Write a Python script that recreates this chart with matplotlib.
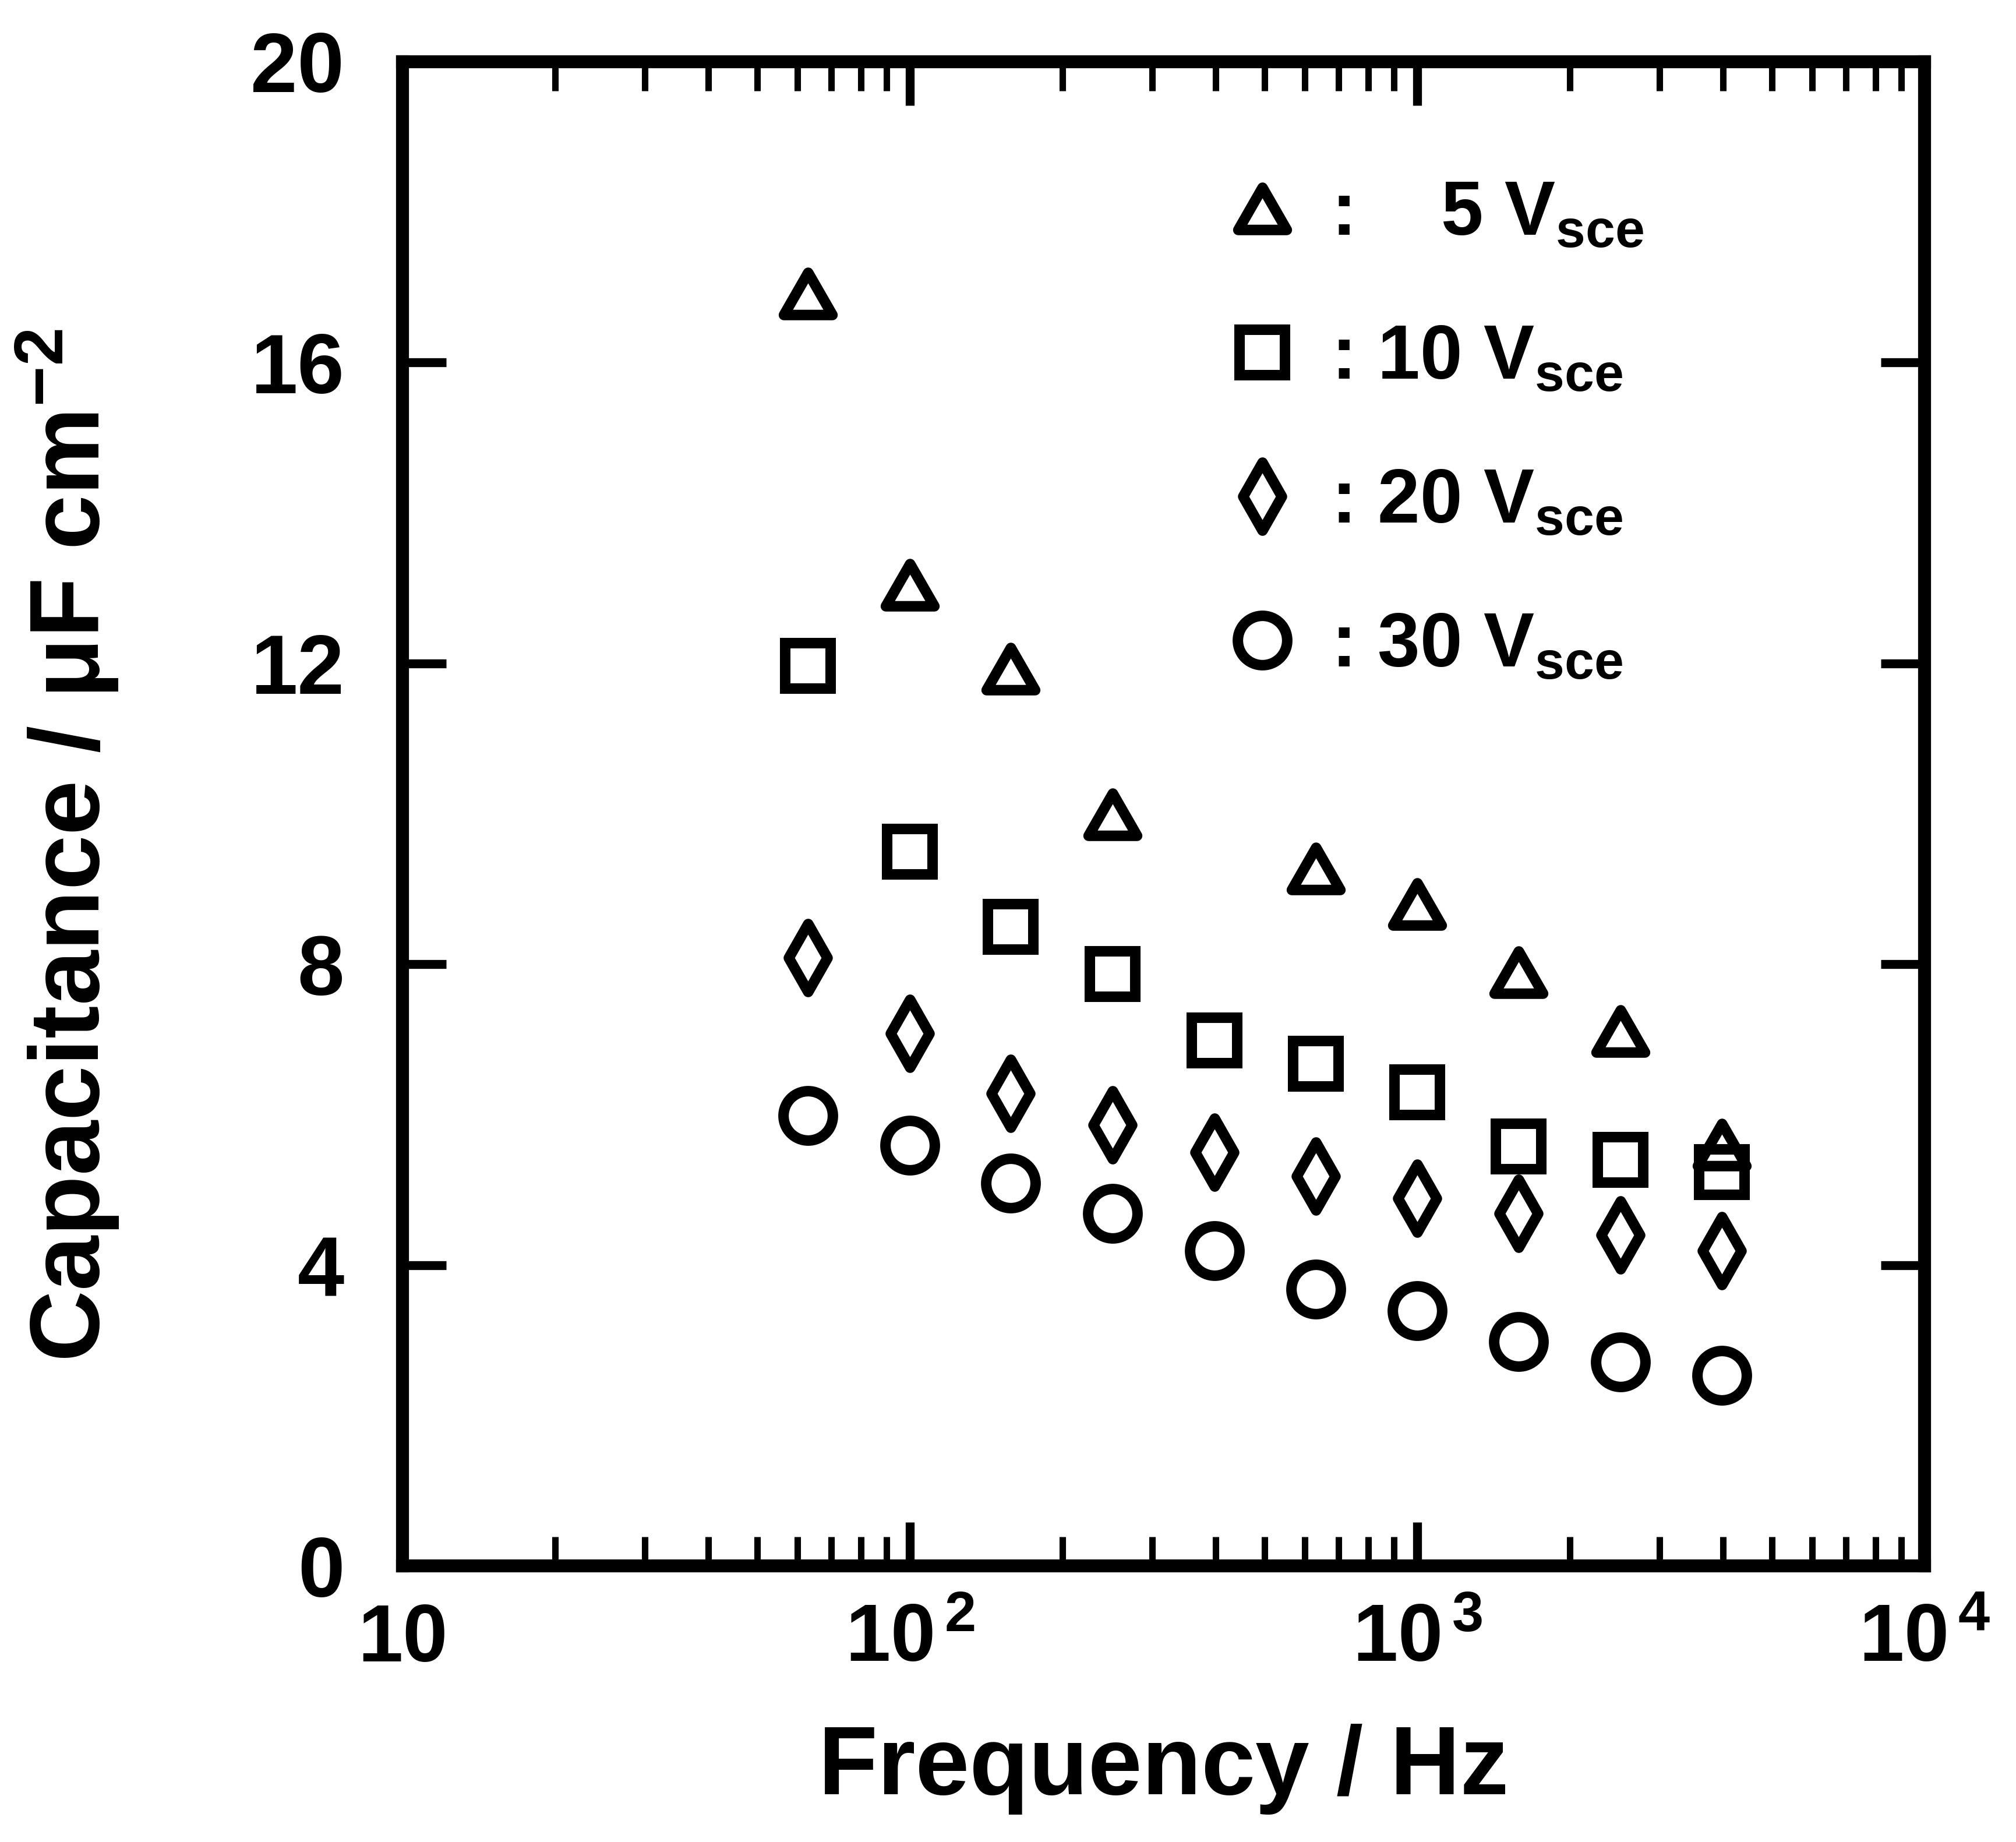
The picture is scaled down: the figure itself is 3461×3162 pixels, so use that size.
import matplotlib
matplotlib.use('Agg')
import matplotlib.pyplot as plt
from matplotlib.path import Path
from matplotlib.ticker import FixedLocator, FixedFormatter, LogLocator, NullFormatter

# ---- data ----
freq = [63, 100, 158, 251, 398, 631, 1000, 1585, 2512, 3981]
freq_5 = [63, 100, 158, 251, 631, 1000, 1585, 2512, 3981]
cap_5 = [16.92, 13.04, 11.93, 9.99, 9.27, 8.80, 7.89, 7.11, 5.60]
cap_10 = [11.97, 9.50, 8.50, 7.87, 6.99, 6.68, 6.30, 5.58, 5.40, 5.24]
cap_20 = [8.09, 7.08, 6.28, 5.86, 5.50, 5.18, 4.89, 4.69, 4.40, 4.19]
cap_30 = [5.99, 5.59, 5.09, 4.69, 4.19, 3.68, 3.39, 2.98, 2.71, 2.53]

labels = [": \u2007 5 V$_{sce}$", ": 10 V$_{sce}$", ": 20 V$_{sce}$", ": 30 V$_{sce}$"]
xticks = [10, 100, 1000, 10000]
xticklabels = ["10", "10$^{\\,2}$", "10$^{\\,3}$", "10$^{\\,4}$"]
yticks = [0, 4, 8, 12, 16, 20]

plt.rcParams['font.family'] = ['Liberation Sans', 'DejaVu Sans']
plt.rcParams['font.weight'] = 'bold'
plt.rcParams['axes.labelweight'] = 'bold'
plt.rcParams['mathtext.fontset'] = 'custom'
plt.rcParams['mathtext.rm'] = 'Liberation Sans:bold'
plt.rcParams['mathtext.it'] = 'Liberation Sans:bold'
plt.rcParams['mathtext.bf'] = 'Liberation Sans:bold'
plt.rcParams['mathtext.default'] = 'rm'

fig = plt.figure(figsize=(34.61, 31.62), dpi=100)
ax = fig.add_axes([0.1997, 0.1499, 0.9547 - 0.1997, 0.9665 - 0.1499])

tri = Path([(-1, -0.87), (1, -0.87), (0, 0.87), (0, 0)],
           [Path.MOVETO, Path.LINETO, Path.LINETO, Path.CLOSEPOLY])
dia = Path([(0, 1), (0.57, 0), (0, -1), (-0.57, 0), (0, 0)],
           [Path.MOVETO, Path.LINETO, Path.LINETO, Path.LINETO, Path.CLOSEPOLY])

mew = 13
common = dict(linestyle='none', markerfacecolor='none', markeredgecolor='black', markeredgewidth=mew)
ax.plot(freq_5, cap_5, marker=tri, markersize=60, label=labels[0], **common)
ax.plot(freq, cap_10, marker='s', markersize=56, label=labels[1], **common)
ax.plot(freq, cap_20, marker=dia, markersize=84, label=labels[2], **common)
ax.plot(freq, cap_30, marker='o', markersize=61, label=labels[3], **common)

ax.set_xscale('log')
ax.set_xlim(10, 10000)
ax.set_ylim(0, 20)

ax.xaxis.set_major_locator(FixedLocator(xticks))
ax.xaxis.set_major_formatter(FixedFormatter(xticklabels))
ax.xaxis.set_minor_locator(LogLocator(base=10, subs=range(2, 10), numticks=20))
ax.xaxis.set_minor_formatter(NullFormatter())
ax.yaxis.set_major_locator(FixedLocator(yticks))

for s in ax.spines.values():
    s.set_linewidth(16)

ax.tick_params(which='major', direction='in', length=54, width=11, top=True, right=True)
ax.tick_params(which='minor', direction='in', length=36, width=8, top=True, right=False)
ax.tick_params(axis='y', which='minor', left=False, right=False)
ax.tick_params(axis='x', which='major', pad=45, labelsize=100)
ax.tick_params(axis='y', which='major', pad=72, labelsize=104)

ax.set_xlabel("Frequency / Hz", fontsize=120)
ax.set_ylabel("Capacitance / \u03bcF cm$^{-2}$", fontsize=122)
ax.xaxis.set_label_coords(0.5, -0.105)
ax.yaxis.set_label_coords(-0.185, 0.479)

leg = ax.legend(loc='upper left', bbox_to_anchor=(0.515, 0.947), frameon=False,
                fontsize=94, labelspacing=0.95, handletextpad=0.4, handlelength=1.0,
                numpoints=1, borderpad=0)

fig.savefig('out.png', dpi=100, facecolor='white')
